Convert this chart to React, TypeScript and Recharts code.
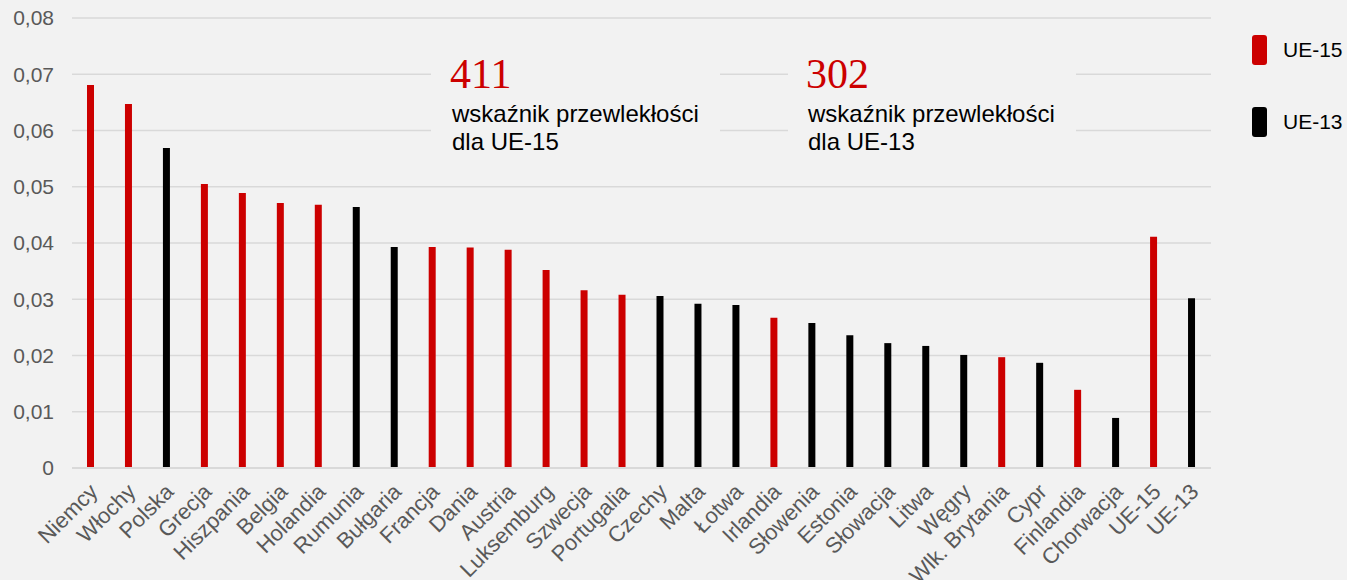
import React from 'react';
import { BarChart, Bar, XAxis, YAxis, CartesianGrid, Cell } from 'recharts';

const categories = [
  'Niemcy', 'Włochy', 'Polska', 'Grecja', 'Hiszpania', 'Belgia', 'Holandia', 'Rumunia',
  'Bułgaria', 'Francja', 'Dania', 'Austria', 'Luksemburg', 'Szwecja', 'Portugalia', 'Czechy',
  'Malta', 'Łotwa', 'Irlandia', 'Słowenia', 'Estonia', 'Słowacja', 'Litwa', 'Węgry',
  'Wlk. Brytania', 'Cypr', 'Finlandia', 'Chorwacja', 'UE-15', 'UE-13',
];

const values = [
  0.0681, 0.0647, 0.0569, 0.0505, 0.0489, 0.0471, 0.0468, 0.0464,
  0.0393, 0.0393, 0.0392, 0.0388, 0.0352, 0.0316, 0.0308, 0.0306,
  0.0292, 0.0290, 0.0267, 0.0258, 0.0236, 0.0222, 0.0217, 0.0201,
  0.0197, 0.0187, 0.0139, 0.0089, 0.0411, 0.0302,
];

const groups = [
  'UE-15', 'UE-15', 'UE-13', 'UE-15', 'UE-15', 'UE-15', 'UE-15', 'UE-13',
  'UE-13', 'UE-15', 'UE-15', 'UE-15', 'UE-15', 'UE-15', 'UE-15', 'UE-13',
  'UE-13', 'UE-13', 'UE-15', 'UE-13', 'UE-13', 'UE-13', 'UE-13', 'UE-13',
  'UE-15', 'UE-13', 'UE-15', 'UE-13', 'UE-15', 'UE-13',
];

const yTicks = [0, 0.01, 0.02, 0.03, 0.04, 0.05, 0.06, 0.07, 0.08];

const legendItems = ['UE-15', 'UE-13'];
const annotations = [
  { value: '411', line1: 'wskaźnik przewlekłości', line2: 'dla UE-15' },
  { value: '302', line1: 'wskaźnik przewlekłości', line2: 'dla UE-13' },
];

const RED = '#cc0000';
const BLACK = '#000000';
const BG = '#f2f2f2';
const colorOf = (g: string) => (g === 'UE-15' ? RED : BLACK);

const data = categories.map((name, i) => ({ name, value: values[i], group: groups[i] }));

const fmt = (v: number) => (v === 0 ? '0' : v.toFixed(2).replace('.', ','));

const XTick = (props: any) => {
  const { x, y, payload } = props;
  return (
    <g transform={`translate(${x + 8},${y + 23})`}>
      <text
        x={0}
        y={0}
        transform="rotate(-45)"
        textAnchor="end"
        fill="#595959"
        fontSize={22}
        fontFamily="'Liberation Sans', Arial, sans-serif"
      >
        {payload.value}
      </text>
    </g>
  );
};

export default function App() {
  const font = "'Liberation Sans', Arial, sans-serif";
  const boxes = [
    { x: 431, w: 289, tx: 452 },
    { x: 788, w: 288, tx: 808 },
  ];
  return (
    <div style={{ position: 'absolute', left: 0, top: 0, width: 1347, height: 580, background: BG, overflow: 'hidden' }}>
      <BarChart
        width={1347}
        height={580}
        data={data}
        margin={{ top: 18, right: 136, bottom: 0, left: 0 }}
        barCategoryGap={0}
      >
        <CartesianGrid vertical={false} stroke="#d9d9d9" strokeWidth={1.5} />
        <XAxis
          dataKey="name"
          interval={0}
          height={112}
          tickLine={false}
          tickSize={0}
          axisLine={{ stroke: '#d9d9d9', strokeWidth: 2 }}
          tick={<XTick />}
        />
        <YAxis
          width={72}
          domain={[0, 0.08]}
          ticks={yTicks}
          tickFormatter={fmt}
          axisLine={false}
          tickLine={false}
          tickSize={0}
          tickMargin={18}
          tick={{ fill: '#595959', fontSize: 21, fontFamily: font }}
        />
        <Bar dataKey="value" barSize={7} isAnimationActive={false}>
          {data.map((d, i) => (
            <Cell key={i} fill={colorOf(d.group)} />
          ))}
        </Bar>
      </BarChart>
      <svg
        width={1347}
        height={580}
        style={{ position: 'absolute', left: 0, top: 0, pointerEvents: 'none' }}
      >
        {annotations.map((a, i) => (
          <g key={i}>
            <rect x={boxes[i].x} y={50} width={boxes[i].w} height={108} fill={BG} />
            <text x={boxes[i].tx - 2} y={88} fill={RED} fontSize={42} fontFamily="'Liberation Serif', 'Times New Roman', serif">
              {a.value}
            </text>
            <text x={boxes[i].tx} y={122} fill="#000" fontSize={24} fontFamily={font}>
              {a.line1}
            </text>
            <text x={boxes[i].tx} y={150} fill="#000" fontSize={24} fontFamily={font}>
              {a.line2}
            </text>
          </g>
        ))}
        {legendItems.map((g, i) => (
          <g key={g}>
            <rect x={1252} y={35 + i * 72} width={15} height={30} rx={3} fill={colorOf(g)} />
            <text x={1283} y={50 + i * 72} dy="0.355em" fill="#000" fontSize={21} fontFamily={font}>
              {g}
            </text>
          </g>
        ))}
      </svg>
    </div>
  );
}
